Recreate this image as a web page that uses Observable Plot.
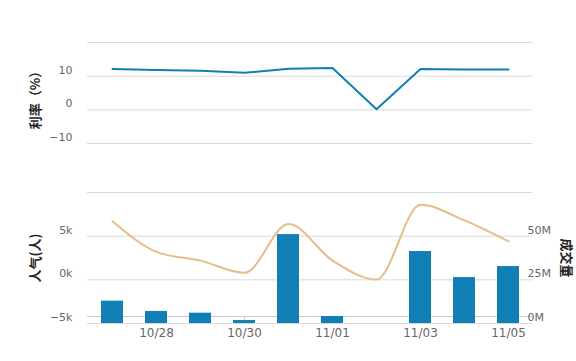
<!DOCTYPE html>
<html><head><meta charset="utf-8">
<script src="https://cdn.jsdelivr.net/npm/d3@7"></script>
<script src="https://cdn.jsdelivr.net/npm/@observablehq/plot@0.6"></script>
<style>
html,body{margin:0;padding:0;background:#fff;}
#chart{position:relative;width:576px;height:361px;overflow:hidden;}
#chart svg{position:absolute;left:0;}
</style></head><body><div id="chart"></div>
<script>
// ---- data ----
const dates = ["10/27","10/28","10/29","10/30","10/31","11/01","11/02","11/03","11/04","11/05"];
const rateValues = [12.1, 11.8, 11.6, 11.0, 12.2, 12.4, 0.2, 12.1, 12.0, 12.0];      // 利率 (%)
const popularityK = [6.7, 3.2, 2.2, 0.8, 6.4, 2.2, 0.05, 8.6, 6.8, 4.4];            // 人气 (k)
const volumeM = [12.8, 6.9, 5.9, 1.7, 50.9, 4.0, null, 41.2, 26.3, 32.6];          // 成交量 (M)
const xTickLabels = ["10/28","10/30","11/01","11/03","11/05"];
const rateTicks = [-10, 0, 10];
const rateGrid = [-10, 0, 10, 20];
const popTicks = [-5, 0, 5];
const volTicks = [0, 25, 50];
const volGrid = [0, 25, 50, 75];
const titleRate = "利率（%）";
const titlePop = "人气(人)";
const titleVol = "成交量";

const rateData = dates.map((d, i) => ({date: d, value: rateValues[i]}));
const popData = dates.map((d, i) => ({date: d, value: popularityK[i]}));
const volData = dates.map((d, i) => ({date: d, value: volumeM[i]})).filter(d => d.value != null);

// ---- styles ----
const BLUE = "#0f7fb6", TAN = "#e6bd88", GRID = "#D8D8D8", AXIS = "#C0D0E0", LABEL = "#666";
const FONT = "DejaVu Sans, sans-serif", CJK = "Noto Sans CJK SC, sans-serif";
const W = 576, ML = 87, MR = 44;
const xOpts = {type: "band", domain: dates, paddingInner: 0.5, paddingOuter: 0.25, axis: null, label: null};
const baseStyle = {fontFamily: FONT, fontSize: "11px", background: "transparent", overflow: "visible"};
const minus = d => (d < 0 ? "\u2212" + (-d) : "" + d);
const titleStyle = {fontSize: 13, fontWeight: "bold", fill: "#222", fontFamily: CJK, textAnchor: "middle", lineAnchor: "middle"};

const chart = document.getElementById("chart");
function place(svg, top) { svg.style.top = top + "px"; chart.appendChild(svg); }

// ---- top panel: 利率 ----
const topH = 170;
place(Plot.plot({
  width: W, height: topH, marginTop: 42, marginBottom: 27, marginLeft: ML, marginRight: MR,
  style: baseStyle,
  x: xOpts,
  y: {domain: [-10, 20], axis: null, label: null},
  marks: [
    Plot.gridY(rateGrid, {stroke: GRID, strokeOpacity: 1}),
    Plot.axisY(rateTicks, {tickSize: 0, tickPadding: 15, dy: -6, color: LABEL, label: null, tickFormat: minus}),
    Plot.lineY(rateData, {x: "date", y: "value", stroke: BLUE, strokeWidth: 2}),
    Plot.text([titleRate], {frameAnchor: "left", dx: -52, dy: 4, rotate: -90, ...titleStyle})
  ]
}), 0);

// ---- bottom panel: 成交量 (bars, right axis) ----
const botH = 191, botMT = 22, botMB = 38;
place(Plot.plot({
  width: W, height: botH, marginTop: botMT, marginBottom: botMB, marginLeft: ML, marginRight: MR,
  style: baseStyle,
  x: xOpts,
  y: {domain: [0, 75], axis: null, label: null},
  marks: [
    Plot.gridY(volGrid, {stroke: GRID, strokeOpacity: 1}),
    Plot.ruleY([0], {dy: -7, stroke: AXIS}),
    Plot.tickX(xTickLabels, {x: d => d, stroke: AXIS, insetTop: botH - botMT - botMB - 7}),
    Plot.barY(volData, {x: "date", y: "value", fill: BLUE}),
    Plot.axisX(xTickLabels, {tickSize: 0, tickPadding: 5, color: LABEL, label: null, fontSize: 12}),
    Plot.axisY(volTicks, {anchor: "right", tickSize: 0, tickPadding: -5, dy: -6, textAnchor: "start", color: LABEL, label: null, tickFormat: d => d + "M"}),
    Plot.text([titleVol], {frameAnchor: "right", dx: 34, rotate: 90, ...titleStyle})
  ]
}), 170);

// ---- bottom panel: 人气 (spline, left axis) ----
place(Plot.plot({
  width: W, height: botH, marginTop: botMT, marginBottom: botMB, marginLeft: ML, marginRight: MR,
  style: baseStyle,
  x: xOpts,
  y: {domain: [-5, 10], axis: null, label: null},
  marks: [
    Plot.axisY(popTicks, {tickSize: 0, tickPadding: 15, dy: -6, color: LABEL, label: null, tickFormat: d => minus(d) + "k"}),
    Plot.lineY(popData, {x: "date", y: "value", stroke: TAN, strokeWidth: 2, curve: "monotone-x"}),
    Plot.text([titlePop], {frameAnchor: "left", dx: -52, rotate: -90, ...titleStyle})
  ]
}), 170);
</script></body></html>
